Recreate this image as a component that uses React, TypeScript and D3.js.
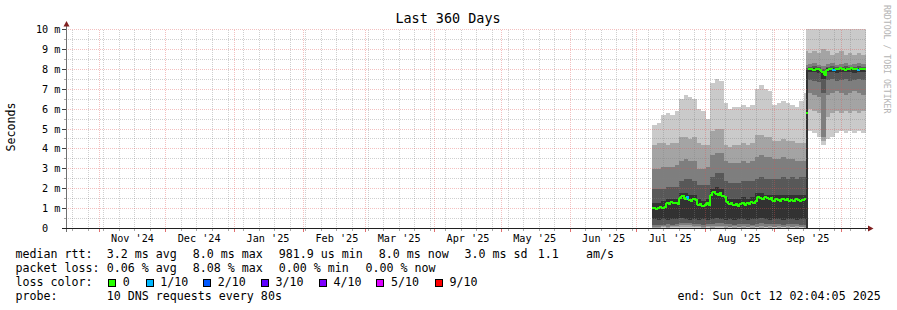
import React from "react";
import * as d3 from "d3";

// ---------------- data ----------------
const END_TIME = new Date(2025, 9, 12, 2, 4, 5);
const SPAN_DAYS = 360;
const DATA_START = new Date(2025, 6, 8); // first day with measurements

// smoke samples: day offset from DATA_START where each sample begins
const smokeDay = [0, 2, 4, 6, 8, 10, 12, 14, 16, 18, 20, 22, 24, 26, 28, 30, 32, 34, 36, 38, 40, 42, 44, 46, 48, 50, 52, 54, 56, 58, 60, 62, 64, 66, 68, 69, 70, 72, 74, 76, 78, 80, 82, 84, 86, 88, 90, 92, 94];
const smokeEndDay = 96;

// ten sorted ping times (ms), p1 lowest ... p10 highest
const p1 = [0.02, 0.02, 0.03, 0.02, 0.03, 0.03, 0.04, 0.03, 0.04, 0.03, 0.02, 0.02, 0.03, 0.02, 0.03, 0.03, 0.02, 0.03, 0.02, 0.03, 0.02, 0.03, 0.02, 0.03, 0.02, 0.03, 0.02, 0.03, 0.02, 0.03, 0.02, 0.03, 0.02, 0.03, 0.02, 0.01, 4.9, 4.8, 4.6, 4.2, 4.5, 4.6, 4.8, 4.9, 4.8, 4.9, 4.8, 4.9, 4.8];
const p2 = [0.05, 0.05, 0.06, 0.05, 0.06, 0.08, 0.1, 0.08, 0.1, 0.08, 0.06, 0.05, 0.06, 0.05, 0.08, 0.06, 0.05, 0.06, 0.05, 0.06, 0.05, 0.06, 0.05, 0.06, 0.05, 0.06, 0.05, 0.06, 0.05, 0.06, 0.05, 0.06, 0.05, 0.06, 0.05, 0.02, 6.0, 5.9, 5.8, 4.4, 5.6, 5.8, 5.9, 5.8, 5.9, 5.8, 5.9, 5.8, 5.9];
const p3 = [0.1, 0.1, 0.12, 0.1, 0.12, 0.15, 0.2, 0.18, 0.2, 0.15, 0.12, 0.1, 0.12, 0.12, 0.15, 0.12, 0.12, 0.1, 0.12, 0.1, 0.12, 0.1, 0.12, 0.1, 0.12, 0.1, 0.12, 0.1, 0.12, 0.1, 0.12, 0.1, 0.12, 0.1, 0.1, 0.03, 6.8, 6.7, 6.6, 4.6, 6.7, 6.8, 6.9, 6.8, 6.7, 6.8, 6.9, 6.8, 6.7];
const p4 = [0.2, 0.18, 0.2, 0.22, 0.2, 0.25, 0.3, 0.28, 0.3, 0.25, 0.22, 0.2, 0.22, 0.25, 0.3, 0.28, 0.25, 0.22, 0.2, 0.22, 0.25, 0.22, 0.2, 0.25, 0.28, 0.25, 0.22, 0.25, 0.22, 0.2, 0.22, 0.25, 0.22, 0.2, 0.2, 0.04, 7.45, 7.4, 7.35, 6.8, 7.45, 7.5, 7.4, 7.45, 7.5, 7.4, 7.45, 7.5, 7.45];
const p5 = [0.5, 0.45, 0.5, 0.45, 0.5, 0.5, 0.55, 0.5, 0.45, 0.5, 0.45, 0.5, 0.45, 0.5, 0.55, 0.5, 0.45, 0.5, 0.45, 0.5, 0.5, 0.45, 0.5, 0.5, 0.55, 0.5, 0.45, 0.5, 0.5, 0.45, 0.5, 0.5, 0.45, 0.5, 0.5, 0.05, 7.85, 7.84, 7.82, 7.5, 7.84, 7.85, 7.83, 7.86, 7.84, 7.85, 7.83, 7.86, 7.85];
const p6 = [1.3, 1.3, 1.4, 1.5, 1.5, 1.5, 1.8, 1.8, 1.7, 1.7, 1.5, 1.4, 1.5, 2.0, 2.1, 2.0, 1.6, 1.5, 1.5, 1.5, 1.6, 1.5, 1.6, 1.8, 1.8, 1.7, 1.7, 1.7, 1.7, 1.7, 1.7, 1.7, 1.7, 1.7, 1.7, 7.95, 8.05, 8.06, 8.04, 7.92, 8.05, 8.06, 8.05, 8.07, 8.05, 8.06, 8.05, 8.07, 8.05];
const p7 = [2.0, 2.0, 2.0, 2.1, 2.1, 2.1, 2.4, 2.5, 2.5, 2.4, 2.2, 2.2, 2.2, 2.6, 2.8, 2.8, 2.4, 2.3, 2.3, 2.3, 2.4, 2.4, 2.4, 2.5, 2.6, 2.5, 2.5, 2.5, 2.5, 2.6, 2.5, 2.6, 2.5, 2.6, 2.6, 8.05, 8.12, 8.15, 8.1, 8.0, 8.12, 8.15, 8.1, 8.12, 8.15, 8.1, 8.12, 8.15, 8.12];
const p8 = [3.0, 3.0, 3.1, 3.1, 3.1, 3.2, 3.4, 3.5, 3.4, 3.4, 3.0, 3.0, 3.1, 3.7, 3.8, 3.8, 3.4, 3.3, 3.3, 3.3, 3.4, 3.3, 3.4, 3.6, 3.7, 3.6, 3.6, 3.5, 3.5, 3.6, 3.5, 3.5, 3.4, 3.4, 3.4, 8.2, 8.25, 8.3, 8.2, 8.15, 8.25, 8.3, 8.2, 8.25, 8.3, 8.2, 8.25, 8.3, 8.25];
const p9 = [4.2, 4.3, 4.3, 4.2, 4.3, 4.3, 4.6, 4.6, 4.5, 4.6, 4.3, 4.2, 4.2, 4.9, 5.0, 5.0, 4.2, 4.1, 4.2, 4.2, 4.3, 4.2, 4.3, 4.7, 4.7, 4.6, 4.6, 4.4, 4.4, 4.5, 4.4, 4.4, 4.3, 4.3, 4.3, 8.9, 8.8, 8.9, 8.8, 9.0, 8.9, 8.7, 8.8, 8.9, 8.7, 8.8, 8.7, 8.8, 8.7];
const p10 = [5.2, 5.3, 5.7, 5.8, 5.7, 5.9, 6.5, 6.7, 6.6, 6.5, 6.0, 5.9, 5.5, 7.3, 7.5, 7.4, 6.3, 6.0, 6.1, 6.1, 6.2, 6.1, 6.2, 7.0, 7.2, 7.0, 6.9, 6.2, 6.3, 6.4, 6.3, 6.2, 6.1, 6.4, 6.8, 10.5, 10.6, 10.8, 10.5, 10.7, 10.9, 10.6, 10.8, 10.7, 10.5, 10.6, 10.8, 10.7, 10.6];

// daily median rtt (ms), day 0 = DATA_START
const medianRtt = [
  1.05, 1.0, 1.05, 1.1, 1.05, 1.1, 1.3, 1.25, 1.35, 1.3,
  1.3, 1.25, 1.55, 1.65, 1.5, 1.6, 1.45, 1.4, 1.5, 1.45,
  1.2, 1.25, 1.15, 1.2, 1.3, 1.2, 1.7, 1.85, 1.75, 1.7,
  1.8, 1.65, 1.6, 1.35, 1.25, 1.3, 1.2, 1.25, 1.15, 1.25,
  1.3, 1.2, 1.3, 1.25, 1.35, 1.3, 1.4, 1.6, 1.55, 1.5,
  1.6, 1.55, 1.5, 1.55, 1.4, 1.5, 1.45, 1.4, 1.5, 1.45,
  1.5, 1.4, 1.45, 1.4, 1.5, 1.45, 1.4, 1.45, 1.5, 5.8,
  8.0, 8.0, 7.95, 8.0, 8.0, 7.95, 7.85, 7.7, 7.95, 8.0,
  8.0, 7.95, 8.0, 8.0, 8.05, 8.0, 7.95, 8.0, 8.0, 8.05,
  8.0, 8.0, 7.95, 8.0, 8.0, 8.0,
];
// daily packet loss in tenths (of 10 pings)
const lossTenths = [
  0, 0, 0, 0, 0, 0, 0, 0, 0, 0,
  0, 0, 0, 0, 0, 1, 0, 0, 0, 0,
  0, 0, 0, 0, 0, 0, 0, 0, 0, 0,
  0, 0, 0, 0, 0, 0, 0, 0, 0, 0,
  0, 0, 0, 0, 0, 0, 0, 0, 0, 0,
  0, 0, 0, 0, 0, 0, 0, 0, 0, 0,
  0, 0, 0, 0, 0, 0, 0, 0, 0, 0,
  0, 0, 0, 0, 0, 0, 0, 0, 0, 0,
  0, 1, 0, 0, 0, 0, 0, 0, 0, 0,
  0, 0, 1, 0, 0, 0,
];

const yMajorTicks = [0, 1, 2, 3, 4, 5, 6, 7, 8, 9, 10];
const yMinorTicks = [0.5, 1.5, 2.5, 3.5, 4.5, 5.5, 6.5, 7.5, 8.5, 9.5];

const lossLegend = [
  { label: "0", tenths: 0, color: "#26ff00" },
  { label: "1/10", tenths: 1, color: "#00b8ff" },
  { label: "2/10", tenths: 2, color: "#0059ff" },
  { label: "3/10", tenths: 3, color: "#5e00ff" },
  { label: "4/10", tenths: 4, color: "#7e00ff" },
  { label: "5/10", tenths: 5, color: "#dd00ff" },
  { label: "9/10", tenths: 9, color: "#ff0000" },
];

const statsRtt = ["median rtt:", "3.2 ms avg", "8.0 ms max", "981.9 us min", "8.0 ms now", "3.0 ms sd", "1.1", "am/s"];
const statsLoss = ["packet loss:", "0.06 % avg", "8.08 % max", "0.00 % min", "0.00 % now"];

// ---------------- styles / layout ----------------
const MONO = "'DejaVu Sans Mono', 'Liberation Mono', monospace";
const SMOKE_COLORS = ["#cacaca", "#a4a4a4", "#7e7e7e", "#585858", "#323232"];
const GRID = "rgba(128,128,128,0.38)";
const MGRID = "rgba(222,80,80,0.36)";
const AXIS = "#404040";
const ARROW = "#7f1f1f";

function lossColor(t: number) {
  if (t <= 0) return "#26ff00";
  if (t === 1) return "#00b8ff";
  if (t === 2) return "#0059ff";
  if (t === 3) return "#5e00ff";
  if (t === 4) return "#7e00ff";
  if (t === 5) return "#dd00ff";
  return "#ff0000";
}

export default function App() {
  const W = 897, H = 310;
  const X0 = 66, X1 = 866, Y0 = 228.5, Y1 = 29.5;
  const startTime = new Date(END_TIME.getTime() - SPAN_DAYS * 86400000);
  const x = d3.scaleTime().domain([startTime, END_TIME]).range([X0, X1]);
  const y = d3.scaleLinear().domain([0, 10]).range([Y0, Y1]);
  const snap = (v: number) => Math.floor(v) + 0.5;
  const dayDate = (d: number) => d3.timeDay.offset(DATA_START, d);

  const pings = [p1, p2, p3, p4, p5, p6, p7, p8, p9, p10];
  const bands = SMOKE_COLORS.map((color, b) => {
    const lo = pings[b], hi = pings[9 - b];
    const pts = smokeDay.map((d, i) => ({ t: dayDate(d), lo: lo[i], hi: hi[i] }));
    pts.push({ t: dayDate(smokeEndDay), lo: lo[lo.length - 1], hi: hi[hi.length - 1] });
    const gen = d3
      .area<{ t: Date; lo: number; hi: number }>()
      .x((p) => x(p.t))
      .y0((p) => y(p.lo))
      .y1((p) => y(p.hi))
      .curve(d3.curveStepAfter);
    return { color, d: gen(pts) || "" };
  });

  const medSegs = medianRtt.map((m, i) => {
    const xa = x(dayDate(i)), xb = x(dayDate(i + 1));
    let d = `M${xa},${y(m)}H${xb}`;
    if (i + 1 < medianRtt.length && Math.abs(medianRtt[i + 1] - m) < 1) d += `V${y(medianRtt[i + 1])}`;
    return { d, color: lossColor(lossTenths[i]) };
  });

  const months = d3.timeMonth.range(startTime, END_TIME);
  const monthKeys = new Set(months.map((m) => +m));
  const weeks = d3.timeSunday.range(startTime, END_TIME).filter((w) => !monthKeys.has(+w));
  const monthLabels = months
    .map((m) => d3.timeDay.offset(m, 15))
    .filter((t) => t > startTime && t < END_TIME);
  const fmt = d3.timeFormat("%b '%y");

  const axisFont = { fontFamily: MONO, fontSize: 10.2, fill: "#000" } as const;
  const legFont = { fontFamily: MONO, fontSize: 11.65, fill: "#000" } as const;

  const rttX = [15.5, 106.7, 192.7, 278.7, 378.7, 464.4, 537.7, 586.1];
  const lossX = [15.5, 106.7, 192.7, 278.7, 365.4];
  const boxX = [108, 145.5, 203, 260.7, 318.7, 376.4, 434.7];

  return (
    <div style={{ position: "absolute", left: 0, top: 0 }}>
      <svg width={W} height={H} viewBox={`0 0 ${W} ${H}`} style={{ display: "block", background: "#fff" }}>
        <defs>
          <clipPath id="plot">
            <rect x={X0} y={Y1 - 0.5} width={X1 - X0} height={Y0 - Y1 + 0.5} />
          </clipPath>
        </defs>
        <rect x={0} y={0} width={W} height={H} fill="#fff" />

        {/* smoke */}
        <g clipPath="url(#plot)" shapeRendering="crispEdges">
          {bands.map((b, i) => (
            <path key={i} d={b.d} fill={b.color} />
          ))}
        </g>

        {/* grid */}
        <g strokeDasharray="1,1" strokeWidth={1} shapeRendering="crispEdges">
          {yMinorTicks.map((v) => (
            <line key={"hm" + v} x1={X0} x2={X1} y1={snap(y(v))} y2={snap(y(v))} stroke={GRID} />
          ))}
          {weeks.map((w) => (
            <line key={"vw" + +w} x1={snap(x(w))} x2={snap(x(w))} y1={Y1} y2={Y0} stroke={GRID} />
          ))}
          {yMajorTicks.filter((v) => v > 0).map((v) => (
            <line key={"hM" + v} x1={X0} x2={X1} y1={snap(y(v))} y2={snap(y(v))} stroke={MGRID} />
          ))}
          {months.map((m) => (
            <line key={"vM" + +m} x1={snap(x(m))} x2={snap(x(m))} y1={Y1} y2={Y0} stroke={MGRID} />
          ))}
        </g>

        {/* ticks */}
        <g shapeRendering="crispEdges">
          {yMinorTicks.map((v) => (
            <line key={"tm" + v} x1={X0 - 2} x2={X0} y1={snap(y(v))} y2={snap(y(v))} stroke="#aaa" />
          ))}
          {yMajorTicks.map((v) => (
            <line key={"tM" + v} x1={X0 - 4} x2={X0} y1={snap(y(v))} y2={snap(y(v))} stroke={AXIS} />
          ))}
          {weeks.map((w) => (
            <line key={"xt" + +w} x1={snap(x(w))} x2={snap(x(w))} y1={Y0} y2={Y0 + 2} stroke="#aaa" />
          ))}
          {months.map((m) => (
            <line key={"xT" + +m} x1={snap(x(m))} x2={snap(x(m))} y1={Y0} y2={Y0 + 3} stroke="#e07070" />
          ))}
        </g>

        {/* median rtt coloured by loss */}
        <g clipPath="url(#plot)" fill="none" strokeWidth={2} shapeRendering="crispEdges">
          {medSegs.map((s, i) => (
            <path key={i} d={s.d} stroke={s.color} />
          ))}
        </g>

        {/* axes */}
        <g shapeRendering="crispEdges">
          <line x1={X0 + 0.5} x2={X0 + 0.5} y1={Y0 + 3.5} y2={Y1 - 5} stroke="#707070" />
          <line x1={X0 - 4} x2={X1 + 4} y1={Y0} y2={Y0} stroke="#202020" />
        </g>
        <path d={`M${X0 - 2.5},${Y1 - 3}L${X0 + 3.5},${Y1 - 3}L${X0 + 0.5},${Y1 - 8.5}Z`} fill={ARROW} />
        <path d={`M${X1 + 2},${Y0 - 3}L${X1 + 2},${Y0 + 3}L${X1 + 7.5},${Y0}Z`} fill={ARROW} />

        {/* y labels */}
        {yMajorTicks.map((v) => (
          <text key={"yl" + v} x={60.5} y={snap(y(v)) + 3.7} textAnchor="end" style={{ ...axisFont, whiteSpace: "pre" }}>
            {v === 0 ? "0  " : `${v} m`}
          </text>
        ))}
        {/* x labels */}
        {monthLabels.map((t) => (
          <text key={"xl" + +t} x={x(t)} y={241.5} textAnchor="middle" style={axisFont}>
            {fmt(d3.timeDay.offset(t, -15))}
          </text>
        ))}

        {/* title and axis title */}
        <text x={448} y={23.3} textAnchor="middle" style={{ fontFamily: MONO, fontSize: 13.45, fill: "#000" }}>
          Last 360 Days
        </text>
        <text transform="translate(15,127) rotate(-90)" textAnchor="middle" style={legFont}>
          Seconds
        </text>
        <text transform="translate(883.5,5) rotate(90)" style={{ fontFamily: MONO, fontSize: 8.2, fill: "#b4b4b4" }}>
          RRDTOOL / TOBI OETIKER
        </text>

        {/* legend */}
        {statsRtt.map((s, i) => (
          <text key={"r" + i} x={rttX[i]} y={258.4} style={legFont}>{s}</text>
        ))}
        {statsLoss.map((s, i) => (
          <text key={"l" + i} x={lossX[i]} y={272.4} style={legFont}>{s}</text>
        ))}
        <text x={15.5} y={286.4} style={legFont}>loss color:</text>
        {lossLegend.map((l, i) => (
          <g key={"lc" + i}>
            <rect x={boxX[i] + 0.5} y={279.5} width={7} height={7} fill={l.color} stroke="#000" strokeWidth={1} shapeRendering="crispEdges" />
            <text x={boxX[i] + 14.7} y={286.4} style={legFont}>{l.label}</text>
          </g>
        ))}
        <text x={15.5} y={300.4} style={legFont}>probe:</text>
        <text x={106.7} y={300.4} style={legFont}>10 DNS requests every 80s</text>
        <text x={880.7} y={300.4} textAnchor="end" style={legFont}>end: Sun Oct 12 02:04:05 2025</text>
      </svg>
    </div>
  );
}
